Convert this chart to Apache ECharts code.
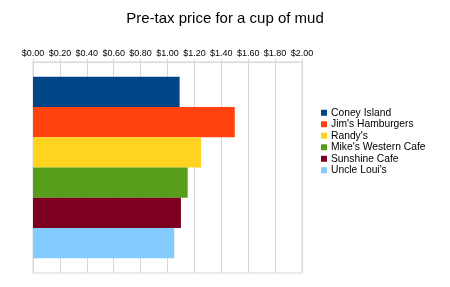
<!DOCTYPE html>
<html lang="en">
<head>
    <meta charset="UTF-8">
    <title>Pre-tax price for a cup of mud</title>
    <style>
        html, body { margin: 0; padding: 0; background: #fff; }
        #main { width: 450px; height: 287px; }
    </style>
    <script src="https://cdn.jsdelivr.net/npm/echarts@6/dist/echarts.min.js"></script>
</head>
<body>
    <div id="main"></div>
    <script>
        // 数据
        var shops = ['Coney Island', "Jim's Hamburgers", "Randy's", "Mike's Western Cafe", 'Sunshine Cafe', "Uncle Loui's"];
        var prices = [1.09, 1.50, 1.25, 1.15, 1.10, 1.05];
        var palette = ['#004586', '#ff420e', '#ffd320', '#579d1c', '#7e0021', '#83caff'];

        var chart = echarts.init(document.getElementById('main'));
        var font = 'Liberation Sans, Arial, sans-serif';

        var series = shops.map(function (name, i) {
            return {
                name: name,
                type: 'bar',
                barGap: 0,
                barCategoryGap: '14%',
                itemStyle: { color: palette[i] },
                data: [prices[i]]
            };
        });

        var option = {
            animation: false,
            textStyle: { fontFamily: font },
            title: {
                text: 'Pre-tax price for a cup of mud',
                left: 'center',
                top: 6,
                textStyle: { fontFamily: font, fontSize: 15, fontWeight: 'normal', color: '#000' }
            },
            legend: {
                orient: 'vertical',
                left: 316,
                top: 102,
                itemWidth: 6,
                itemHeight: 6,
                itemGap: 0,
                icon: 'rect',
                textStyle: { fontFamily: font, fontSize: 10.3, color: '#000', lineHeight: 11.5, padding: [0, 0, 0, -1] },
                data: shops
            },
            grid: {
                left: 33,
                right: 148,
                top: 62,
                bottom: 14,
                show: true,
                borderColor: '#d8d8d8',
                borderWidth: 1
            },
            xAxis: {
                type: 'value',
                position: 'top',
                min: 0,
                max: 2,
                interval: 0.2,
                axisLine: { show: true, lineStyle: { color: '#d8d8d8' } },
                axisTick: { show: true, length: 3, lineStyle: { color: '#d8d8d8' } },
                axisLabel: {
                    fontFamily: font,
                    fontSize: 9,
                    color: '#000',
                    margin: 4,
                    formatter: function (v) { return '$' + v.toFixed(2); }
                },
                splitLine: { show: true, lineStyle: { color: '#d8d8d8' } }
            },
            yAxis: {
                type: 'category',
                inverse: true,
                data: [''],
                axisLine: { show: true, lineStyle: { color: '#d8d8d8' } },
                axisTick: { show: false },
                axisLabel: { show: false }
            },
            series: series
        };

        chart.setOption(option);
    </script>
</body>
</html>
